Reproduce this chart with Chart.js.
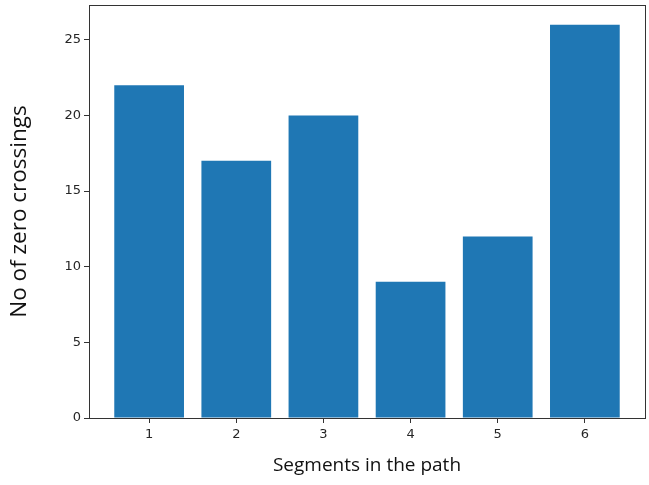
<!DOCTYPE html>
<html lang="en">
<head>
  <meta charset="UTF-8">
  <title>Zero crossings per segment</title>
  <script src="https://cdn.jsdelivr.net/npm/chart.js"></script>
  <style>
    html, body {
      margin: 0;
      padding: 0;
      background: #fff;
    }
    .wrap {
      width: 649px;
      height: 485px;
      position: relative;
    }
  </style>
</head>
<body>
  <div class="wrap">
    <canvas id="barChart"></canvas>
  </div>

  <script>
    const segments = [1, 2, 3, 4, 5, 6];
    const crossings = [22, 17, 20, 9, 12, 26];
    const yTicks = [0, 5, 10, 15, 20, 25];

    // draws the full box round the plot, like matplotlib does
    const frame = {
      id: 'frame',
      afterDraw(chart) {
        const a = chart.chartArea;
        const c = chart.ctx;
        c.save();
        c.strokeStyle = '#333';
        c.lineWidth = 1;
        c.strokeRect(Math.round(a.left) + 0.5, Math.round(a.top) + 0.5,
          Math.round(a.right - a.left), Math.round(a.bottom - a.top));
        c.restore();
      }
    };

    const tickFont = { family: 'DejaVu Sans', size: 13 };

    const ctx = document.getElementById('barChart').getContext('2d');
    const chart = new Chart(ctx, {
      type: 'bar',
      data: {
        datasets: [{
          data: segments.map((s, i) => ({ x: s, y: crossings[i] })),
          backgroundColor: '#1f77b4',
          borderWidth: 0,
          categoryPercentage: 1,
          barPercentage: 0.8
        }]
      },
      plugins: [frame],
      options: {
        responsive: true,
        maintainAspectRatio: false,
        animation: false,
        layout: { padding: { left: 4, top: 5, right: 4, bottom: 0 } },
        plugins: {
          legend: { display: false },
          tooltip: { enabled: false }
        },
        scales: {
          x: {
            type: 'linear',
            offset: false,
            min: 0.31,
            max: 6.69,
            afterBuildTicks(scale) {
              scale.ticks = segments.map(v => ({ value: v }));
            },
            afterFit(scale) {
              scale.height = 67;
              scale.paddingLeft = 0;
              scale.paddingRight = 0;
            },
            grid: {
              offset: false,
              drawOnChartArea: false,
              drawTicks: true,
              tickLength: 5,
              tickColor: '#333'
            },
            border: { display: false },
            ticks: {
              font: tickFont,
              color: '#262626',
              padding: 4,
              maxRotation: 0
            },
            title: {
              display: true,
              text: 'Segments in the path',
              font: { family: 'Open Sans', size: 19 },
              color: '#111',
              padding: { top: 8, bottom: 8 }
            }
          },
          y: {
            min: 0,
            max: 27.3,
            afterBuildTicks(scale) {
              scale.ticks = yTicks.map(v => ({ value: v }));
            },
            afterFit(scale) {
              scale.width = 85;
              scale.paddingTop = 0;
              scale.paddingBottom = 0;
            },
            grid: {
              drawOnChartArea: false,
              drawTicks: true,
              tickLength: 5,
              tickColor: '#333'
            },
            border: { display: false },
            ticks: {
              font: tickFont,
              color: '#262626',
              padding: 3
            },
            title: {
              display: true,
              text: 'No of zero crossings',
              font: { family: 'Open Sans', size: 22.5 },
              color: '#111',
              padding: { top: 2, bottom: 0 }
            }
          }
        }
      }
    });
  </script>
</body>
</html>
